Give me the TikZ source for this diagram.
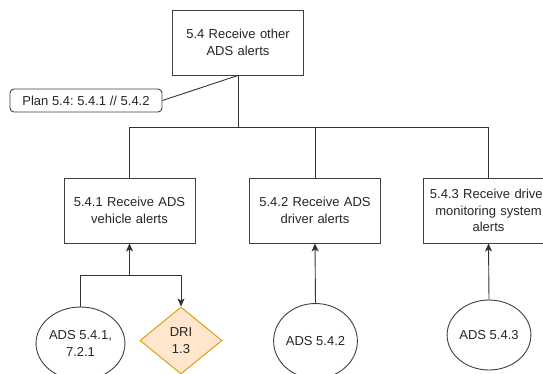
\documentclass[tikz,border=0pt]{standalone}
\usepackage{fontspec}
\setmainfont{Liberation Sans}
\usetikzlibrary{arrows.meta,shapes.geometric}
\definecolor{driFill}{HTML}{FFE6CC}
\definecolor{driLine}{HTML}{D79B00}
\frenchspacing
\begin{document}
\begin{tikzpicture}[x=1pt,y=-1pt,
  every node/.style={font=\fontsize{13}{16.5}\selectfont, text=black!85},
  conn/.style={draw=black!80, line width=0.9pt},
  arr/.style={conn, -{Stealth[length=8pt,width=7pt,inset=2pt]}},
  task/.style={draw=black!75, line width=0.9pt, fill=white, inner sep=0pt,
    minimum width=131pt, minimum height=65pt, text width=125pt, align=center},
  plan/.style={draw=black!75, line width=0.9pt, rounded corners=4pt, inner sep=0pt,
    minimum width=152pt, minimum height=23pt},
  source/.style={ellipse, draw=black!75, line width=0.9pt, fill=white, inner sep=0pt, align=center},
  dri/.style={diamond, draw=driLine, line width=0.9pt, fill=driFill, inner sep=0pt, align=center,
    minimum width=82pt, minimum height=67pt}
]
\useasboundingbox (0,0) rectangle (543,373);
\clip (0,0) rectangle (543,373);

% tasks
\node[task] (top) at (238,42.5) {5.4 Receive other\\ADS alerts};
\node[plan] (plan) at (86,100.5) {Plan 5.4: 5.4.1 // 5.4.2};
\node[task] (t1) at (129.5,210.5) {5.4.1 Receive ADS\\vehicle alerts};
\node[task] (t2) at (315,210.5) {5.4.2 Receive ADS\\driver alerts};
\node[task] (t3) at (488.5,210.5) {5.4.3 Receive driver\\monitoring system\\alerts};

% information sources
\node[source, minimum width=77pt, minimum height=73pt] (c1) at (80.5,343.5) {ADS 5.4.1,\\7.2.1};
\node[dri] (d1) at (181,340.5) {DRI\\1.3};
\node[source, minimum width=75pt, minimum height=75pt] (c2) at (315.5,341) {ADS 5.4.2};
\node[source, minimum width=72pt, minimum height=70pt] (c3) at (489,335) {ADS 5.4.3};

% hierarchy
\coordinate (bus) at (238,127);
\coordinate (j1) at (129.5,275);
\draw[conn] (plan.east) -- (top.south);
\draw[conn] (top.south) -- (bus);
\draw[conn] (t1.north) -- (t1.north |- bus) -- (t3.north |- bus) -- (t3.north);
\draw[conn] (t2.north) -- (t2.north |- bus);

% inputs
\draw[arr] (c1.north) |- (j1) -- (t1.south);
\draw[arr] (j1) -| (d1.north);
\draw[arr] (c2.north) -- (t2.south);
\draw[arr] (c3.north) -- (t3.south);
\end{tikzpicture}
\end{document}
